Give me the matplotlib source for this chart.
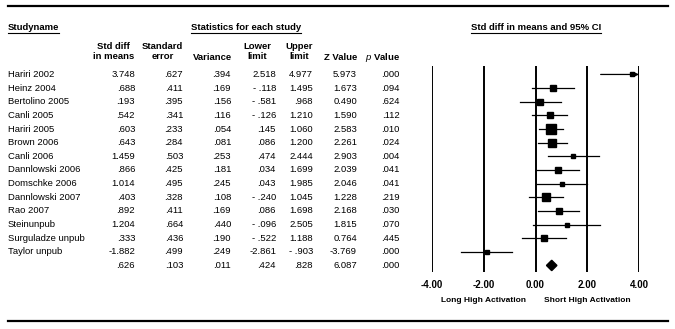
import matplotlib
matplotlib.use("Agg")
import matplotlib.pyplot as plt
from matplotlib import transforms
from matplotlib.lines import Line2D
import numpy as np

plt.rcParams["font.family"] = ["Liberation Sans", "DejaVu Sans"]
plt.rcParams["mathtext.fontset"] = "custom"
plt.rcParams["mathtext.it"] = "Liberation Sans:italic"

studies = ["Hariri 2002", "Heinz 2004", "Bertolino 2005", "Canli 2005", "Hariri 2005",
           "Brown 2006", "Canli 2006", "Dannlowski 2006", "Domschke 2006",
           "Dannlowski 2007", "Rao 2007", "Steinunpub", "Surguladze unpub", "Taylor unpub"]
std_diff = [3.748, .688, .193, .542, .603, .643, 1.459, .866, 1.014, .403, .892, 1.204, .333, -1.882]
std_err = [.627, .411, .395, .341, .233, .284, .503, .425, .495, .328, .411, .664, .436, .499]
variance = [.394, .169, .156, .116, .054, .081, .253, .181, .245, .108, .169, .440, .190, .249]
lower = [2.518, -.118, -.581, -.126, .145, .086, .474, .034, .043, -.240, .086, -.096, -.522, -2.861]
upper = [4.977, 1.495, .968, 1.210, 1.060, 1.200, 2.444, 1.699, 1.985, 1.045, 1.698, 2.505, 1.188, -.903]
z_value = [5.973, 1.673, 0.490, 1.590, 2.583, 2.261, 2.903, 2.039, 2.046, 1.228, 2.168, 1.815, 0.764, -3.769]
p_value = [.000, .094, .624, .112, .010, .024, .004, .041, .041, .219, .030, .070, .445, .000]

# summary row (random/fixed effect)
summary = {"std_diff": .626, "std_err": .103, "variance": .011, "lower": .424,
           "upper": .828, "z_value": 6.087, "p_value": .000}

ticks = [-4, -2, 0, 2, 4]
tick_labels = ["-4.00", "-2.00", "0.00", "2.00", "4.00"]
favours = ["Long High Activation", "Short High Activation"]

W, H = 675, 329
fig = plt.figure(figsize=(W / 100, H / 100), dpi=100)


def fx(px):
    return px / W


def fy(py):
    return 1 - py / H


def fmt(v, keep_zero=False):
    s = f"{abs(v):.3f}"
    if not keep_zero and abs(v) < 1:
        s = s[1:]
    if v < 0:
        s = ("- " if abs(v) < 1 else "-") + s
    return s


FS = 6.8
n = len(studies)

ax = fig.add_axes([fx(432), fy(272), fx(639) - fx(432), fy(66) - fy(272)])
ax.set_xlim(ticks[0], ticks[-1])
ax.set_ylim(n + 0.48, -0.62)
for s in ax.spines.values():
    s.set_visible(False)
ax.set_yticks([])
ax.set_xticks(ticks)
ax.set_xticklabels(tick_labels, fontsize=7, fontweight="bold")
ax.tick_params(axis="x", length=0, pad=6)
for t in ticks:
    ax.axvline(t, color="black", lw=1.4, zorder=1)

# study rows
weights = 1 / np.array(variance)
for i in range(n):
    lo, hi = lower[i], upper[i]
    if hi > ticks[-1]:
        ax.annotate("", xy=(ticks[-1], i), xytext=(lo, i),
                    arrowprops=dict(arrowstyle="->", lw=0.9, color="black",
                                    shrinkA=0, shrinkB=0, mutation_scale=7),
                    annotation_clip=False)
    else:
        ax.plot([lo, hi], [i, i], color="black", lw=0.9, zorder=2)
    side = 2.33 * np.sqrt(weights[i]) * 0.72
    ax.plot(std_diff[i], i, marker="s", ms=side, color="black", mec="black", zorder=3)

# summary diamond
r = n
ax.fill([summary["lower"], summary["std_diff"], summary["upper"], summary["std_diff"]],
        [r, r - 0.38, r, r + 0.38], color="black", zorder=3)

# favours labels
tr = transforms.blended_transform_factory(ax.transData, fig.transFigure)
ax.text(-2, fy(300), favours[0], transform=tr, ha="center", va="center",
        fontsize=6, fontweight="bold")
ax.text(2, fy(300), favours[1], transform=tr, ha="center", va="center",
        fontsize=6, fontweight="bold")

# table
rowtr = transforms.blended_transform_factory(fig.transFigure, ax.transData)
col_right = [135, 183, 231, 276, 313, 357, 400]
columns = [std_diff, std_err, variance, lower, upper, z_value, p_value]
keys = ["std_diff", "std_err", "variance", "lower", "upper", "z_value", "p_value"]
for i in range(n):
    fig.text(fx(8), i, studies[i], transform=rowtr, ha="left", va="center", fontsize=FS)
    for c, (xr, vals) in enumerate(zip(col_right, columns)):
        fig.text(fx(xr), i, fmt(vals[i], keep_zero=(c == 5)), transform=rowtr,
                 ha="right", va="center", fontsize=FS)
for c, (xr, k) in enumerate(zip(col_right, keys)):
    fig.text(fx(xr), n, fmt(summary[k], keep_zero=(c == 5)), transform=rowtr,
             ha="right", va="center", fontsize=FS)

# column headers
hdr = dict(fontsize=FS, fontweight="bold", ha="right", va="center", multialignment="center",
           linespacing=1.2)
fig.text(fx(134), fy(51.5), "Std diff\nin means", **hdr)
fig.text(fx(183), fy(51.5), "Standard\nerror", **hdr)
fig.text(fx(232), fy(57), "Variance", **hdr)
fig.text(fx(271), fy(51.5), "Lower\nlimit", **hdr)
fig.text(fx(313), fy(51.5), "Upper\nlimit", **hdr)
fig.text(fx(357), fy(57), "Z Value", **hdr)
fig.text(fx(400), fy(57), r"$\mathit{p}$ Value", **hdr)

titles = [
    fig.text(fx(8), fy(27), "Studyname", fontsize=FS, fontweight="bold", ha="left", va="center"),
    fig.text(fx(246), fy(27), "Statistics for each study", fontsize=FS, fontweight="bold",
             ha="center", va="center"),
    fig.text(fx(536), fy(27), "Std diff in means and 95% CI", fontsize=FS, fontweight="bold",
             ha="center", va="center"),
]

# underline the section titles
fig.canvas.draw()
renderer = fig.canvas.get_renderer()
for t in titles:
    bb = t.get_window_extent(renderer)
    y = fy(32.5)
    fig.add_artist(Line2D([bb.x0 / W, bb.x1 / W], [y, y], color="black", lw=0.8))

# top and bottom rules
for yy in (6, 321):
    fig.add_artist(Line2D([fx(8), fx(668)], [fy(yy), fy(yy)], color="black", lw=1.6))

fig.savefig("out.png", dpi=100)
